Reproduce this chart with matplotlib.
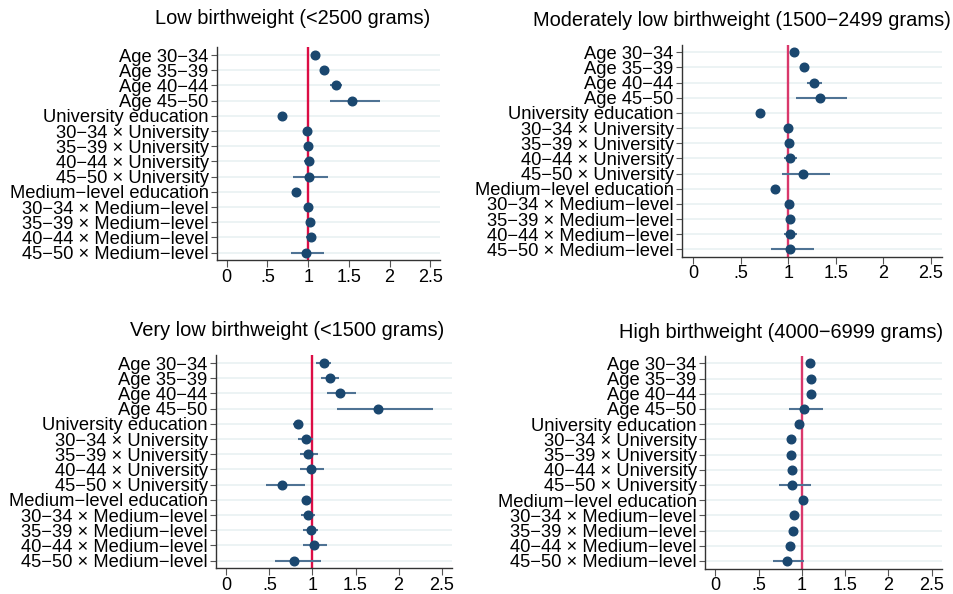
import numpy as np
import matplotlib
matplotlib.use('Agg')
import matplotlib.pyplot as plt

plt.rcParams['font.family'] = ['Liberation Sans', 'DejaVu Sans']

# rotulos das linhas (de cima para baixo)
labels = ['Age 30\u221234', 'Age 35\u221239', 'Age 40\u221244', 'Age 45\u221250',
          'University education',
          '30\u221234 \u00d7 University', '35\u221239 \u00d7 University',
          '40\u221244 \u00d7 University', '45\u221250 \u00d7 University',
          'Medium\u2212level education',
          '30\u221234 \u00d7 Medium\u2212level', '35\u221239 \u00d7 Medium\u2212level',
          '40\u221244 \u00d7 Medium\u2212level', '45\u221250 \u00d7 Medium\u2212level']

titles = ['Low birthweight (<2500 grams)',
          'Moderately low birthweight (1500\u22122499 grams)',
          'Very low birthweight (<1500 grams)',
          'High birthweight (4000\u22126999 grams)']

# estimativas (odds ratio) e IC
low_est = [1.08, 1.20, 1.34, 1.54, 0.68, 0.98, 1.00, 1.01, 1.01, 0.85, 1.00, 1.02, 1.03, 0.97]
low_lo = [1.05, 1.17, 1.27, 1.27, 0.66, 0.95, 0.97, 0.95, 0.81, 0.83, 0.97, 0.99, 0.97, 0.79]
low_hi = [1.11, 1.23, 1.42, 1.88, 0.70, 1.01, 1.03, 1.07, 1.24, 0.87, 1.03, 1.05, 1.09, 1.20]

mod_est = [1.06, 1.17, 1.27, 1.33, 0.70, 1.00, 1.01, 1.02, 1.16, 0.86, 1.01, 1.02, 1.02, 1.02]
mod_lo = [1.03, 1.13, 1.20, 1.08, 0.67, 0.97, 0.98, 0.95, 0.93, 0.83, 0.98, 0.99, 0.95, 0.82]
mod_hi = [1.09, 1.21, 1.36, 1.62, 0.73, 1.03, 1.04, 1.09, 1.44, 0.89, 1.04, 1.06, 1.09, 1.27]

vlow_est = [1.13, 1.20, 1.32, 1.76, 0.83, 0.92, 0.95, 0.98, 0.645, 0.93, 0.95, 0.98, 1.02, 0.78]
vlow_lo = [1.04, 1.10, 1.17, 1.29, 0.77, 0.83, 0.86, 0.85, 0.46, 0.88, 0.87, 0.89, 0.89, 0.56]
vlow_hi = [1.22, 1.31, 1.50, 2.40, 0.89, 1.01, 1.06, 1.13, 0.91, 0.98, 1.03, 1.07, 1.17, 1.10]

high_est = [1.09, 1.10, 1.10, 1.03, 0.97, 0.87, 0.87, 0.89, 0.89, 1.01, 0.91, 0.90, 0.865, 0.83]
high_lo = [1.07, 1.08, 1.08, 0.85, 0.95, 0.85, 0.85, 0.86, 0.73, 0.99, 0.88, 0.87, 0.84, 0.67]
high_hi = [1.11, 1.12, 1.13, 1.24, 0.99, 0.90, 0.90, 0.92, 1.10, 1.03, 0.94, 0.93, 0.89, 1.02]

xticks = [0, 0.5, 1, 1.5, 2, 2.5]
xticklabels = ['0', '.5', '1', '1.5', '2', '2.5']

W, H = 954, 594
fig = plt.figure(figsize=(W / 100, H / 100), dpi=100)

# posicoes em pixels: esquerda, direita, topo, base ; titulo (x centro, y) ; cor da linha vermelha
boxes = [(217, 440, 47.4, 260.3, 293, 18, '#dc0d45'),
         (682, 942, 44.7, 257.0, 742, 21, '#d9386b'),
         (216, 452, 355.4, 568.3, 287, 330, '#dc0d45'),
         (705, 942, 355.7, 568.6, 781, 332, '#d9386b')]

dados = [(low_est, low_lo, low_hi), (mod_est, mod_lo, mod_hi),
         (vlow_est, vlow_lo, vlow_hi), (high_est, high_lo, high_hi)]

navy = '#1a476f'
ci_col = '#4f7394'

y = np.arange(len(labels))
for (l, r, t, b, tx, ty, red), (est, lo, hi), tit in zip(boxes, dados, titles):
    ax = fig.add_axes([l / W, 1 - b / H, (r - l) / W, (b - t) / H])
    for yy in y:
        ax.axhline(yy, color='#eaf2f3', lw=1.3, zorder=0)
    ax.axvline(1, color=red, lw=1.7, zorder=1)
    ax.hlines(y, lo, hi, color=ci_col, lw=1.5, zorder=2)
    ax.plot(est, y, 'o', color=navy, ms=6.2, zorder=3)
    ax.set_ylim(13.5, -0.5)
    ax.set_xlim(-0.12, 2.62)
    ax.set_yticks(y)
    ax.set_yticklabels(labels, fontsize=13.2)
    ax.set_xticks(xticks)
    ax.set_xticklabels(xticklabels, fontsize=13)
    ax.tick_params(axis='y', length=4, width=0.8, color='#555555', pad=2)
    ax.tick_params(axis='x', length=5, width=0.8, color='#555555', pad=1)
    for s in ['top', 'right']:
        ax.spines[s].set_visible(False)
    for s in ['left', 'bottom']:
        ax.spines[s].set_color('#333333')
        ax.spines[s].set_linewidth(1.0)
    fig.text(tx / W, 1 - ty / H, tit, ha='center', va='center', fontsize=14.4)

fig.savefig('out.png', dpi=100)
